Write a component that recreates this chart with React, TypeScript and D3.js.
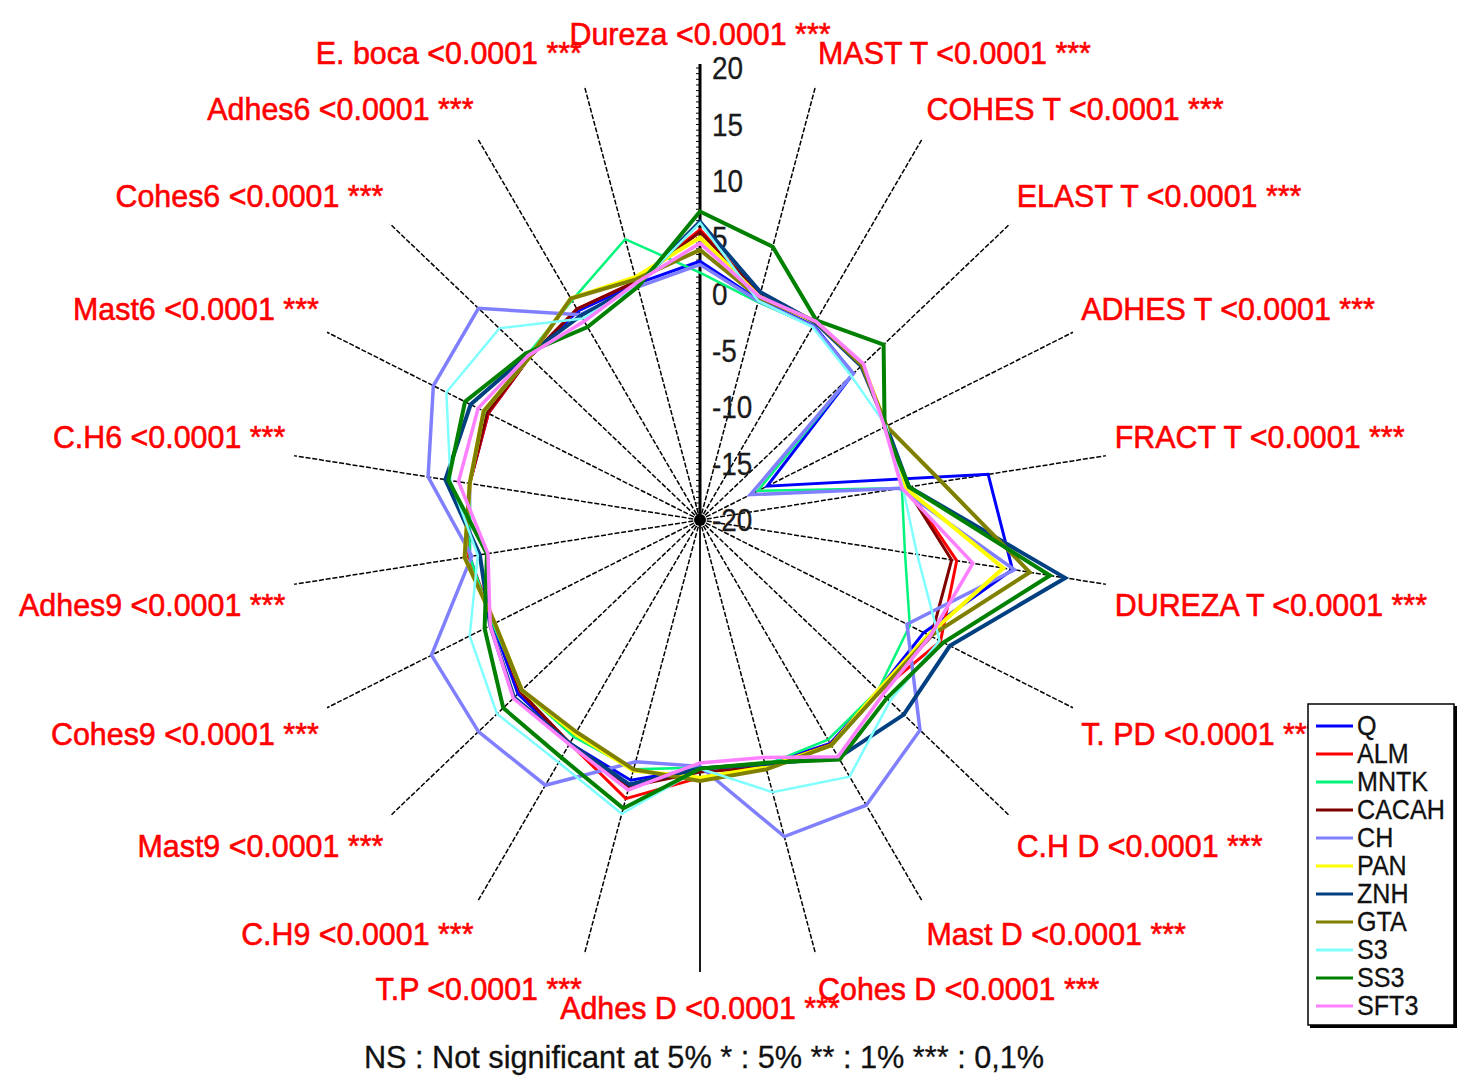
import React from 'react';
import * as d3 from 'd3';

// Attribute names, clockwise from the top axis
const attributes = [
  'Dureza', 'MAST T', 'COHES T', 'ELAST T', 'ADHES T', 'FRACT T', 'DUREZA T',
  'T. PD', 'C.H D', 'Mast D', 'Cohes D', 'Adhes D', 'T.P', 'C.H9', 'Mast9',
  'Cohes9', 'Adhes9', 'C.H6', 'Mast6', 'Cohes6', 'Adhes6', 'E. boca',
];
const pValueText = '<0.0001 ***';

const radialTicks = [20, 15, 10, 5, 0, -5, -10, -15, -20];

// Product scores per attribute (same order as `attributes`)
const Q = [2.9, 0.3, 0.5, -0.2, -12.8, 8.4, 10.8, 4.0, 3.0, 3.5, 2.6, 2.0, 4.0, 3.5, 3.5, 2.2, 2.7, 2.7, 2.7, 2.0, 2.0, 1.8];
const ALM = [5.7, 0.8, 0.8, 1.0, 0.0, 0.4, 5.3, 5.8, 3.2, 3.6, 2.8, 2.8, 5.7, 3.5, 3.2, 2.0, 2.8, 2.7, 2.7, 2.0, 2.2, 2.0];
const MNTK = [1.9, 0.1, 0.4, -0.3, -13.8, -0.1, 0.2, 2.5, 3.0, 3.1, 2.6, 1.9, 3.0, 2.8, 3.0, 2.2, 2.7, 2.7, 3.0, 2.3, 3.1, 5.9];
const CACAH = [5.5, 0.8, 0.8, 1.0, 0.0, 0.3, 4.8, 4.8, 3.2, 3.6, 2.8, 2.3, 4.6, 3.5, 3.2, 2.0, 3.2, 2.7, 2.8, 2.0, 2.2, 2.0];
const CH = [2.6, 0.2, 0.4, -0.2, -14.6, -0.3, 11.0, 2.2, 8.4, 10.0, 9.2, 1.8, 2.3, 7.9, 8.6, 8.8, 2.5, 6.8, 8.6, 8.6, 1.6, 1.5];
const PAN = [5.0, 0.6, 0.8, 1.0, 0.0, 0.2, 9.9, 4.5, 3.0, 3.7, 2.8, 2.8, 3.1, 2.5, 3.0, 2.0, 3.2, 2.7, 3.2, 2.0, 3.3, 2.4];
const ZNH = [6.4, 1.0, 0.8, 0.8, 0.0, 0.6, 16.0, 6.8, 6.3, 5.0, 2.5, 2.0, 4.4, 3.5, 4.0, 2.5, 1.7, 5.1, 4.6, 2.3, 1.5, 1.7];
const GTA = [3.9, 0.5, 0.9, 0.9, 0.0, 3.8, 12.5, 4.7, 3.2, 3.7, 3.0, 3.1, 3.0, 2.3, 3.0, 2.0, 3.2, 2.7, 3.2, 2.0, 3.3, 2.2];
const S3 = [6.3, 0.2, 0.3, -0.5, 0.0, 0.0, 1.4, 5.7, 4.5, 7.0, 5.1, 2.0, 7.1, 5.5, 6.2, 4.7, 1.9, 4.6, 7.2, 5.9, 1.2, 1.6];
const SS3 = [7.3, 5.2, 1.0, 3.7, -0.2, 0.6, 14.5, 6.1, 4.1, 5.2, 2.4, 2.0, 6.6, 5.0, 5.4, 3.1, 1.0, 4.8, 5.2, 2.5, 0.3, 1.5];
const SFT3 = [4.5, 0.6, 0.9, 1.1, -0.2, -0.1, 6.9, 4.7, 3.6, 4.9, 1.9, 1.5, 4.9, 3.6, 4.1, 2.5, 0.9, 3.8, 3.8, 2.2, 0.9, 1.9];

const seriesNames = ['Q', 'ALM', 'MNTK', 'CACAH', 'CH', 'PAN', 'ZNH', 'GTA', 'S3', 'SS3', 'SFT3'];
const seriesValues = [Q, ALM, MNTK, CACAH, CH, PAN, ZNH, GTA, S3, SS3, SFT3];
const seriesColors = ['#0000ff', '#ff0000', '#00f57a', '#800000', '#8080ff', '#ffff00', '#003f80', '#808000', '#80ffff', '#008000', '#ff80ff'];
const seriesWidths = [3, 3, 2.5, 3, 3.5, 4, 4, 4, 2.5, 4, 3.5];

const noteText = 'NS : Not significant at 5%   * : 5%   ** : 1%   *** : 0,1%';

const W = 1457;
const H = 1077;
const CX = 700;
const CY = 520;
const RX = 410;
const RY = 452;
const FONT = '"Liberation Sans", Arial, sans-serif';

const frac = d3.scaleLinear().domain([-20, 20]).range([0, 1]);
const angle = d3.scaleLinear().domain([0, attributes.length]).range([0, 2 * Math.PI]);

function pt(i: number, v: number): [number, number] {
  const a = angle(i);
  const f = frac(v);
  return [CX + RX * f * Math.sin(a), CY - RY * f * Math.cos(a)];
}

function Txt(props: {
  x: number; y: number; text: string; anchor?: string; size: number; fill: string; sx?: number; weight?: number;
}) {
  const { x, y, text, anchor = 'start', size, fill, sx = 0.95, weight = 0 } = props;
  return (
    <text
      transform={`translate(${x},${y}) scale(${sx},1)`}
      textAnchor={anchor}
      dominantBaseline="central"
      fontSize={size}
      fill={fill}
      stroke={weight > 0 ? fill : 'none'}
      strokeWidth={weight}
      fontFamily={FONT}
    >
      {text}
    </text>
  );
}

export default function App() {
  const line = d3.line<[number, number]>().curve(d3.curveLinearClosed);

  // radial minor ticks along the value axis
  const minorTicks = d3.range(-20, 20.01, 0.5);

  return (
    <svg
      width={W}
      height={H}
      viewBox={`0 0 ${W} ${H}`}
      style={{ position: 'absolute', left: 0, top: 0, background: '#fff' }}
    >
      <rect x={0} y={0} width={W} height={H} fill="#fff" />

      {/* spokes */}
      {attributes.map((_, i) => {
        if (i === 0) return null;
        const [x2, y2] = pt(i, 20);
        const solid = i === 11;
        return (
          <line
            key={`spoke-${i}`}
            x1={CX}
            y1={CY}
            x2={x2}
            y2={y2}
            stroke="#000"
            strokeWidth={solid ? 1.8 : 1.5}
            strokeDasharray={solid ? undefined : '5 1.8'}
          />
        );
      })}

      {/* value axis */}
      <line x1={CX} y1={CY} x2={CX} y2={pt(0, 20)[1] - 4} stroke="#000" strokeWidth={3} />
      {minorTicks.map((t) => {
        const y = pt(0, t)[1];
        return <line key={`mt-${t}`} x1={CX - 4} x2={CX} y1={y} y2={y} stroke="#000" strokeWidth={1} />;
      })}
      {radialTicks.map((t) => (
        <Txt key={`tick-${t}`} x={CX + 12} y={pt(0, t)[1]} text={String(t)} size={31} fill="#1a1a1a" sx={0.9} weight={0.3} />
      ))}
      <circle cx={CX} cy={CY} r={6} fill="#000" />

      {/* series polygons */}
      {seriesValues.map((vals, s) => (
        <path
          key={seriesNames[s]}
          d={line(vals.map((v, i) => pt(i, v))) || ''}
          fill="none"
          stroke={seriesColors[s]}
          strokeWidth={seriesWidths[s]}
          strokeLinejoin="miter"
        />
      ))}

      {/* attribute labels */}
      {attributes.map((name, i) => {
        const a = angle(i);
        const s = Math.sin(a);
        const c = Math.cos(a);
        const x = CX + 419 * s;
        const y = CY + 1.5 - 470 * c - 17 * Math.sign(c);
        const anchor = Math.abs(s) < 1e-6 ? 'middle' : s > 0 ? 'start' : 'end';
        return (
          <Txt key={`lab-${i}`} x={x} y={y} text={`${name} ${pValueText}`} anchor={anchor} size={32} fill="#ff0000" weight={0.6} />
        );
      })}

      {/* legend */}
      <g>
        <rect x={1310} y={706} width={147} height={322} fill="#000" />
        <rect x={1308} y={704} width={146} height={321} fill="#fff" stroke="#000" strokeWidth={1.5} />
        {seriesNames.map((name, s) => {
          const y = 726 + 28 * s;
          return (
            <g key={`leg-${name}`}>
              <line x1={1316} x2={1353} y1={y} y2={y} stroke={seriesColors[s]} strokeWidth={3} />
              <Txt x={1357} y={y} text={name} size={27} fill="#111" sx={0.93} weight={0.3} />
            </g>
          );
        })}
      </g>

      {/* significance note */}
      <Txt x={704} y={1057} text={noteText} anchor="middle" size={31} fill="#111" sx={0.99} weight={0.3} />
    </svg>
  );
}
